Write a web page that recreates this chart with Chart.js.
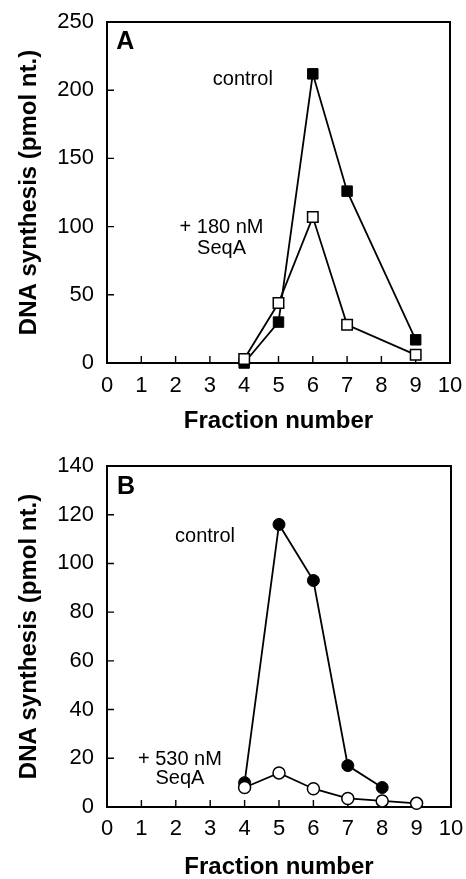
<!DOCTYPE html>
<html>
<head>
<meta charset="utf-8">
<script src="https://cdn.jsdelivr.net/npm/chart.js@4/dist/chart.umd.min.js"></script>
<style>
  html, body { margin: 0; padding: 0; background: #fff; }
  body { width: 466px; height: 879px; position: relative; overflow: hidden; }
  .panel { position: absolute; left: 0; width: 466px; }
  canvas { display: block; }
</style>
</head>
<body>
<div class="panel" style="top:0;height:440px"><canvas id="chartA" width="466" height="440"></canvas></div>
<div class="panel" style="top:440px;height:439px"><canvas id="chartB" width="466" height="439"></canvas></div>
<script>
// ---- Data ----
const xTickValues = [0, 1, 2, 3, 4, 5, 6, 7, 8, 9, 10];

// Panel A
const fractionsA = [4, 5, 6, 7, 9];
const controlA = [0, 30, 212, 126, 17];
const seqA180 = [3, 44, 107, 28, 6];
const yTicksA = [0, 50, 100, 150, 200, 250];

// Panel B
const fractionsBControl = [4, 5, 6, 7, 8];
const controlB = [10, 116, 93, 17, 8];
const fractionsBSeqA = [4, 5, 6, 7, 8, 9];
const seqA530 = [8, 14, 7.5, 3.5, 2.5, 1.5];
const yTicksB = [0, 20, 40, 60, 80, 100, 120, 140];

const FONT = "'Liberation Sans', Arial, Helvetica, sans-serif";
Chart.defaults.font.family = FONT;
Chart.defaults.color = '#000';

function pts(xs, ys) { return xs.map((x, i) => ({ x: x, y: ys[i] })); }

// Plugin: frame box, inward ticks, and text annotations placed via scales
const framePlugin = {
  id: 'frame',
  beforeDatasetsDraw(chart) {
    const { ctx, chartArea: a, scales: { x, y } } = chart;
    ctx.save();
    ctx.strokeStyle = '#000';
    ctx.lineWidth = 1.4;
    const tl = 7;
    ctx.beginPath();
    x.ticks.forEach(t => {
      const px = x.getPixelForValue(t.value);
      if (px <= a.left + 1 || px >= a.right - 1) return;
      ctx.moveTo(px, a.bottom);
      ctx.lineTo(px, a.bottom - tl);
    });
    y.ticks.forEach(t => {
      const py = y.getPixelForValue(t.value);
      if (py <= a.top + 1 || py >= a.bottom - 1) return;
      ctx.moveTo(a.left, py);
      ctx.lineTo(a.left + tl, py);
    });
    ctx.stroke();
    ctx.lineWidth = 2;
    ctx.strokeRect(a.left, a.top, a.right - a.left, a.bottom - a.top);
    ctx.restore();
  },
  afterDatasetsDraw(chart, args, opts) {
    const { ctx, scales: { x, y } } = chart;
    ctx.save();
    ctx.fillStyle = '#000';
    ctx.textAlign = 'center';
    ctx.textBaseline = 'middle';
    (opts.labels || []).forEach(l => {
      ctx.font = (l.bold ? 'bold ' : '') + l.size + 'px ' + FONT;
      ctx.fillText(l.text, x.getPixelForValue(l.x), y.getPixelForValue(l.y));
    });
    ctx.restore();
  }
};

function makeChart(id, cfg) {
  const datasets = [
    {
      label: cfg.openLabel,
      data: pts(cfg.openX, cfg.openY),
      borderColor: '#000', borderWidth: 1.8,
      pointStyle: cfg.shape, pointRadius: cfg.radius,
      pointBackgroundColor: '#fff', pointBorderColor: '#000', pointBorderWidth: 1.5,
      tension: 0, clip: false, order: 0
    },
    {
      label: cfg.fillLabel,
      data: pts(cfg.fillX, cfg.fillY),
      borderColor: '#000', borderWidth: 1.8,
      pointStyle: cfg.shape, pointRadius: cfg.radius,
      pointBackgroundColor: '#000', pointBorderColor: '#000', pointBorderWidth: 1,
      tension: 0, clip: false, order: 1
    }
  ];
  return new Chart(document.getElementById(id), {
    type: 'line',
    data: { datasets },
    options: {
      responsive: false,
      animation: false,
      devicePixelRatio: 1,
      layout: { padding: { top: cfg.padTop, right: cfg.padRight, left: 0, bottom: 0 } },
      plugins: {
        legend: { display: false },
        tooltip: { enabled: false },
        frame: { labels: cfg.labels }
      },
      scales: {
        x: {
          type: 'linear', min: 0, max: 10,
          afterFit: s => { s.height = cfg.xHeight; s.paddingLeft = 0; s.paddingRight = 0; },
          afterBuildTicks: s => { s.ticks = xTickValues.map(v => ({ value: v })); },
          grid: { display: false, drawTicks: false },
          border: { display: false },
          ticks: { font: { size: 22, lineHeight: 1.2 }, padding: cfg.xTickPad, maxRotation: 0, autoSkip: false },
          title: { display: true, text: 'Fraction number', font: { size: 24, weight: 'bold', lineHeight: 1 }, padding: { top: 0, bottom: cfg.xTitlePad } }
        },
        y: {
          type: 'linear', min: 0, max: cfg.yMax,
          afterFit: s => { s.width = 107; s.paddingTop = 0; s.paddingBottom = 0; },
          afterBuildTicks: s => { s.ticks = cfg.yTicks.map(v => ({ value: v })); },
          grid: { display: false, drawTicks: false },
          border: { display: false },
          ticks: { font: { size: 22 }, padding: 13 },
          title: { display: true, text: 'DNA synthesis (pmol nt.)', font: { size: 24, weight: 'bold', lineHeight: 1 }, padding: { top: 17, bottom: 0 } }
        }
      }
    },
    plugins: [framePlugin]
  });
}

makeChart('chartA', {
  openLabel: '+ 180 nM SeqA', fillLabel: 'control', shape: 'rect', radius: 7.4,
  openX: fractionsA, openY: seqA180, fillX: fractionsA, fillY: controlA,
  yMax: 250, yTicks: yTicksA, padTop: 22, padRight: 16, xHeight: 77,
  xTickPad: 10, xTitlePad: 7,
  labels: [
    { text: 'A', x: 0.53, y: 235, size: 25, bold: true },
    { text: 'control', x: 3.96, y: 208, size: 20 },
    { text: '+ 180 nM', x: 3.34, y: 99, size: 20 },
    { text: 'SeqA', x: 3.34, y: 84, size: 20 }
  ]
});

makeChart('chartB', {
  openLabel: '+ 530 nM SeqA', fillLabel: 'control', shape: 'circle', radius: 6,
  openX: fractionsBSeqA, openY: seqA530, fillX: fractionsBControl, fillY: controlB,
  yMax: 140, yTicks: yTicksB, padTop: 26, padRight: 15, xHeight: 72,
  xTickPad: 8.5, xTitlePad: 0,
  labels: [
    { text: 'B', x: 0.55, y: 131.5, size: 25, bold: true },
    { text: 'control', x: 2.85, y: 111, size: 20 },
    { text: '+ 530 nM', x: 2.12, y: 19.4, size: 20 },
    { text: 'SeqA', x: 2.12, y: 11.6, size: 20 }
  ]
});
</script>
</body>
</html>
